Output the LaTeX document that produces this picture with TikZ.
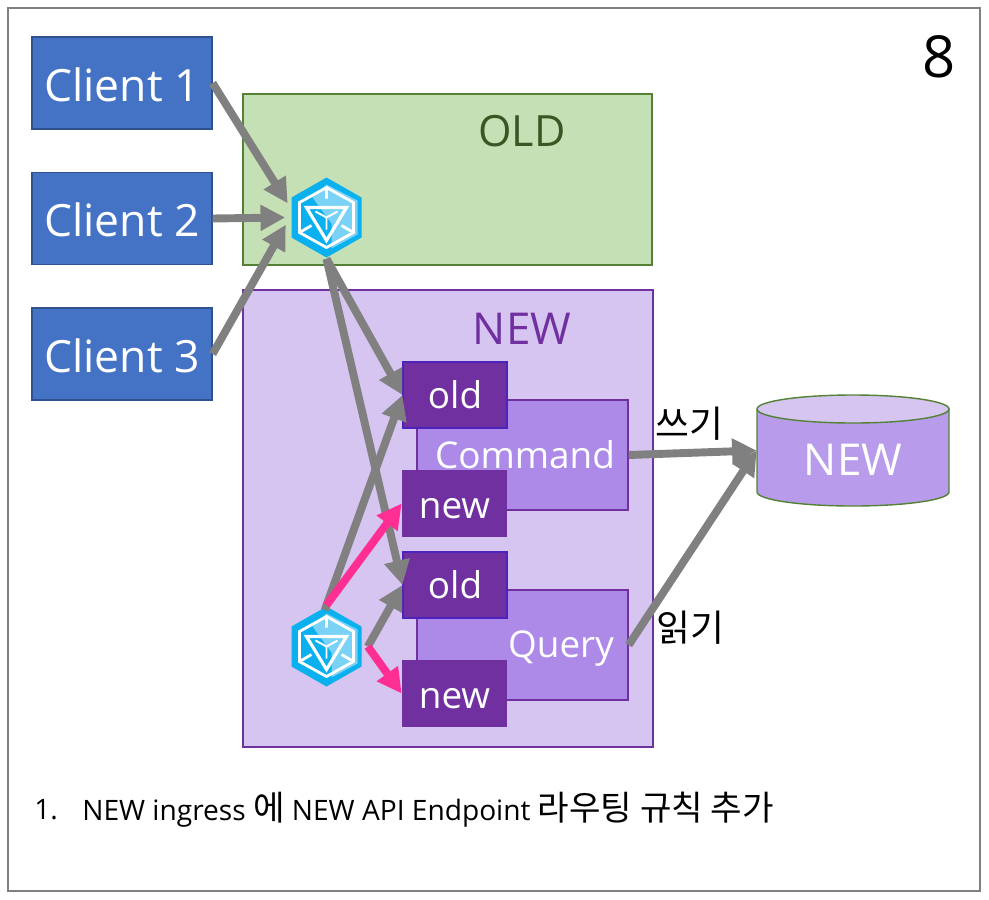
\documentclass[tikz,border=0pt]{standalone}
\usepackage{fontspec}
\setmainfont{Open Sans}
\newfontfamily\krfont{Noto Sans CJK KR}
\usepackage{xcolor}
\usetikzlibrary{arrows.meta}
\definecolor{clientblue}{HTML}{4472C4}
\definecolor{clientedge}{HTML}{2F528F}
\definecolor{oldgreen}{HTML}{C5E0B4}
\definecolor{oldedge}{HTML}{548235}
\definecolor{oldtext}{HTML}{385723}
\definecolor{newlilac}{HTML}{D5C5F0}
\definecolor{newpurple}{HTML}{7030A0}
\definecolor{svcpurple}{HTML}{AD8AE8}
\definecolor{dbpurple}{HTML}{B89CEB}
\definecolor{routepink}{HTML}{FF2E93}
\definecolor{icondark}{HTML}{0BB0EE}
\definecolor{iconlight}{HTML}{7AD3F7}
\tikzset{
    client/.style={draw=clientedge, line width=0.7pt, fill=clientblue, text=white, inner sep=0pt,
        minimum width=3.6cm, minimum height=1.84cm, text height=20.7pt, text depth=0pt,
        font=\fontsize{25.3}{30}\selectfont},
    zone/.style={line width=0.8pt, inner sep=0pt},
    service/.style={draw=newpurple, line width=0.8pt, fill=svcpurple, inner sep=0pt,
        minimum width=4.22cm, minimum height=2.2cm},
    route/.style={fill=newpurple, text=white, inner sep=0pt, minimum width=2.08cm,
        font=\fontsize{21}{25}\selectfont},
    oldroute/.style={route, draw=newpurple!70!blue, line width=0.6pt, minimum height=1.32cm,
        text height=15pt, text depth=0pt},
    newroute/.style={route, minimum width=2.1cm, minimum height=1.34cm,
        text height=17pt, text depth=0pt},
    ingress/.style={circle, inner sep=0pt, minimum size=1.64cm},
    flow/.style={color=black!50, line width=4.5pt,
        -{Triangle[length=14pt,width=14pt]}},
    pinkflow/.style={flow, color=routepink},
    ingressicon/.pic={
        \fill[icondark] (0,-40) -- (35,-20) -- (35,20) -- (0,40) -- (-35,20) -- (-35,-20) -- cycle;
        \fill[iconlight] (0,-33) -- (31,-17) -- (31,17) -- (5,31) -- (5,6) -- (-14,-20) -- cycle;
        \draw[white, line width=1.6pt, line join=miter] (0,-30) -- (27,-15) -- (27,15) -- (0,30) -- (-27,15) -- (-27,-15) -- cycle;
        \draw[white, line width=1.6pt] (0,-30) -- (0,-19) (-27,15) -- (-15,8) (27,15) -- (15,8);
        \draw[white, line width=1.8pt, line join=miter] (-20,-10) -- (20,-10) -- (0,23) -- cycle;
        \draw[white, line width=1.1pt] (0,0) -- (0,12) (0,0) -- (-11,-6) (0,0) -- (11,-6);
    },
}

\begin{document}
\begin{tikzpicture}[x=0.02cm, y=-0.02cm]
    \useasboundingbox (0,0) rectangle (989,899);
    \draw[black!50, line width=1.1pt] (8,8) rectangle (980,891);
    \node[font=\fontsize{33}{38}\selectfont] (pagenum) at (939,57) {8};

    % Clients
    \node[client] (client1) at (122,83) {Client 1};
    \node[client] (client2) at (122,218.5) {Client 2};
    \node[client] (client3) at (122,354) {Client 3};

    % Old and new clusters
    \node[zone, draw=oldedge, fill=oldgreen, minimum width=8.18cm, minimum height=3.42cm] (oldzone) at (447.5,179.5) {};
    \node[zone, draw=newpurple, fill=newlilac, minimum width=8.2cm, minimum height=9.14cm] (newzone) at (448,518.5) {};
    \node[text=oldtext, font=\fontsize{24.5}{30}\selectfont] (oldlabel) at (522,131) {OLD};
    \node[text=newpurple, font=\fontsize{25}{30}\selectfont] (newlabel) at (522,329) {NEW};

    % Command and Query services
    \node[service] (command) at (522.5,455) {};
    \node[service] (query) at (522.5,645) {};
    \node[text=white, font=\fontsize{21}{25}\selectfont] (commandlabel) at (525,455) {Command};
    \node[text=white, font=\fontsize{21}{25}\selectfont] (querylabel) at (561,649) {Query};
    \node[oldroute] (oldcmd) at (455,395) {old};
    \node[newroute] (newcmd) at (454.5,503.5) {new};
    \node[oldroute] (oldqry) at (455,585) {old};
    \node[newroute] (newqry) at (454.5,693.5) {new};

    % Database
    \node[inner sep=0pt, minimum width=3.84cm, minimum height=2.22cm] (dbnew) at (853,450.5) {};
    \draw[oldedge, line width=0.8pt, fill=dbpurple] (757,409) -- (757,492) arc[start angle=180, end angle=360, x radius=96, y radius=-14] -- (949,409);
    \draw[oldedge, line width=0.8pt, fill=newlilac] (853,409) ellipse[x radius=96, y radius=14];
    \node[text=white, font=\fontsize{25}{30}\selectfont] (dblabel) at (853,460) {NEW};

    % Ingress controllers
    \node[ingress] (ingressold) at (326.5,217.5) {};
    \node[ingress] (ingressnew) at (326.5,646.5) {};
    \pic at (ingressold) {ingressicon};
    \pic at (ingressnew) {ingressicon};

    % Traffic
    \draw[flow] (client1.east) -- (ingressold.160);
    \draw[flow] (client2.east) -- (ingressold.180);
    \draw[flow] (client3.east) -- (ingressold.190);
    \draw[flow] (ingressold.south) -- (oldcmd.west);
    \draw[flow] (ingressold.south) -- (oldqry.west);
    \draw[flow, shorten <=-3pt] (ingressnew.north) -- (oldcmd.west);
    \draw[pinkflow] (ingressnew.north) -- (newcmd.west);
    \draw[flow] (ingressnew.east) -- (oldqry.west);
    \draw[pinkflow] (ingressnew.east) -- (newqry.west);
    \draw[flow] (command.east) -- (dbnew.west);
    \draw[flow] (query.east) -- (dbnew.west);

    \node[font=\krfont\fontsize{21}{25}\selectfont] (writelabel) at (689,424) {쓰기};
    \node[font=\krfont\fontsize{21}{25}\selectfont] (readlabel) at (690,628) {읽기};

    % Step list
    \node[anchor=west, font=\fontsize{16}{19}\selectfont, inner sep=0pt] (stepnum) at (34,810) {1.};
    \node[anchor=west, font=\fontsize{16}{19}\selectfont, inner sep=0pt] (steptext) at (82,810) {NEW ingress {\krfont\fontsize{19.5}{19}\selectfont 에} NEW API Endpoint {\krfont\fontsize{19.5}{19}\selectfont 라우팅 규칙 추가}};
\end{tikzpicture}
\end{document}
